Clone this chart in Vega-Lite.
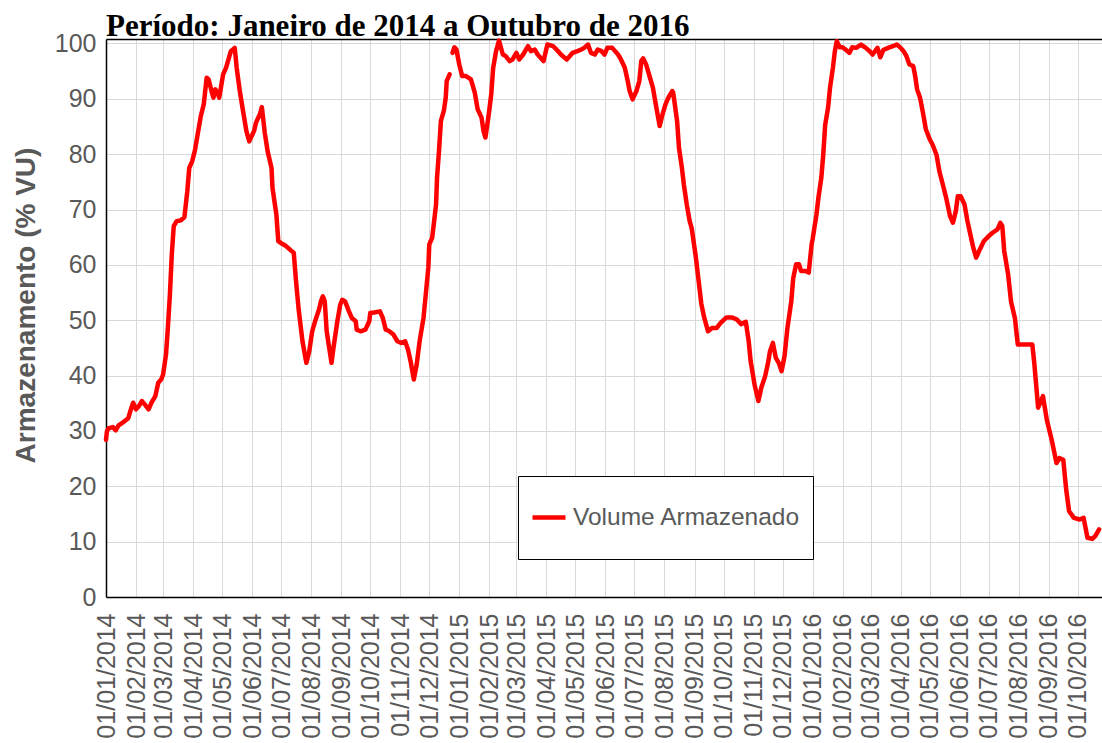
{
  "$schema": "https://vega.github.io/schema/vega-lite/v6.json",
  "width": 996,
  "height": 558,
  "autosize": {"type": "none"},
  "padding": {"left": 106, "top": 39, "right": 0, "bottom": 146},
  "background": "white",
  "title": {"text": "Período: Janeiro de 2014 a Outubro de 2016", "anchor": "start", "frame": "group", "font": "Liberation Serif", "fontSize": 31, "fontWeight": "bold", "color": "#000000", "baseline": "alphabetic", "offset": -36},
  "data": {"values": [
    {"date": "2014-01-01", "value": 28.4},
    {"date": "2014-01-02", "value": 30.0},
    {"date": "2014-01-04", "value": 30.5},
    {"date": "2014-01-08", "value": 30.7},
    {"date": "2014-01-11", "value": 30.1},
    {"date": "2014-01-14", "value": 31.0},
    {"date": "2014-01-19", "value": 31.6},
    {"date": "2014-01-24", "value": 32.3},
    {"date": "2014-01-26", "value": 33.5},
    {"date": "2014-01-29", "value": 35.1},
    {"date": "2014-02-01", "value": 33.9},
    {"date": "2014-02-04", "value": 34.5},
    {"date": "2014-02-07", "value": 35.4},
    {"date": "2014-02-10", "value": 34.8},
    {"date": "2014-02-14", "value": 33.9},
    {"date": "2014-02-17", "value": 35.1},
    {"date": "2014-02-21", "value": 36.3},
    {"date": "2014-02-24", "value": 38.7},
    {"date": "2014-02-27", "value": 39.3},
    {"date": "2014-03-01", "value": 40.2},
    {"date": "2014-03-04", "value": 43.8},
    {"date": "2014-03-06", "value": 48.9},
    {"date": "2014-03-08", "value": 54.6},
    {"date": "2014-03-10", "value": 62.0},
    {"date": "2014-03-12", "value": 67.0},
    {"date": "2014-03-15", "value": 67.9},
    {"date": "2014-03-19", "value": 68.0},
    {"date": "2014-03-23", "value": 68.6},
    {"date": "2014-03-26", "value": 73.3},
    {"date": "2014-03-28", "value": 77.5},
    {"date": "2014-03-31", "value": 78.7},
    {"date": "2014-04-03", "value": 80.8},
    {"date": "2014-04-06", "value": 83.9},
    {"date": "2014-04-09", "value": 86.9},
    {"date": "2014-04-12", "value": 89.0},
    {"date": "2014-04-15", "value": 93.8},
    {"date": "2014-04-17", "value": 93.5},
    {"date": "2014-04-20", "value": 91.4},
    {"date": "2014-04-22", "value": 90.2},
    {"date": "2014-04-24", "value": 91.7},
    {"date": "2014-04-26", "value": 91.1},
    {"date": "2014-04-28", "value": 90.2},
    {"date": "2014-05-02", "value": 94.4},
    {"date": "2014-05-05", "value": 95.6},
    {"date": "2014-05-08", "value": 97.4},
    {"date": "2014-05-10", "value": 98.6},
    {"date": "2014-05-14", "value": 99.2},
    {"date": "2014-05-16", "value": 95.6},
    {"date": "2014-05-19", "value": 91.7},
    {"date": "2014-05-22", "value": 88.4},
    {"date": "2014-05-26", "value": 84.2},
    {"date": "2014-05-29", "value": 82.3},
    {"date": "2014-06-03", "value": 84.2},
    {"date": "2014-06-05", "value": 85.7},
    {"date": "2014-06-09", "value": 87.2},
    {"date": "2014-06-11", "value": 88.5},
    {"date": "2014-06-14", "value": 83.9},
    {"date": "2014-06-17", "value": 80.5},
    {"date": "2014-06-21", "value": 77.5},
    {"date": "2014-06-22", "value": 73.9},
    {"date": "2014-06-26", "value": 69.1},
    {"date": "2014-06-28", "value": 64.3},
    {"date": "2014-07-02", "value": 63.8},
    {"date": "2014-07-06", "value": 63.4},
    {"date": "2014-07-11", "value": 62.6},
    {"date": "2014-07-14", "value": 62.2},
    {"date": "2014-07-16", "value": 57.7},
    {"date": "2014-07-19", "value": 52.0},
    {"date": "2014-07-23", "value": 46.2},
    {"date": "2014-07-27", "value": 42.3},
    {"date": "2014-07-30", "value": 44.4},
    {"date": "2014-08-02", "value": 48.0},
    {"date": "2014-08-05", "value": 49.8},
    {"date": "2014-08-09", "value": 51.9},
    {"date": "2014-08-11", "value": 53.4},
    {"date": "2014-08-13", "value": 54.3},
    {"date": "2014-08-15", "value": 53.4},
    {"date": "2014-08-17", "value": 48.0},
    {"date": "2014-08-22", "value": 42.3},
    {"date": "2014-08-24", "value": 45.0},
    {"date": "2014-08-28", "value": 49.8},
    {"date": "2014-08-31", "value": 52.8},
    {"date": "2014-09-02", "value": 53.7},
    {"date": "2014-09-05", "value": 53.4},
    {"date": "2014-09-09", "value": 51.6},
    {"date": "2014-09-12", "value": 50.4},
    {"date": "2014-09-16", "value": 49.8},
    {"date": "2014-09-17", "value": 48.3},
    {"date": "2014-09-21", "value": 48.0},
    {"date": "2014-09-26", "value": 48.3},
    {"date": "2014-09-30", "value": 49.8},
    {"date": "2014-10-01", "value": 51.3},
    {"date": "2014-10-05", "value": 51.4},
    {"date": "2014-10-11", "value": 51.6},
    {"date": "2014-10-14", "value": 50.4},
    {"date": "2014-10-17", "value": 48.3},
    {"date": "2014-10-20", "value": 48.1},
    {"date": "2014-10-25", "value": 47.4},
    {"date": "2014-10-29", "value": 46.2},
    {"date": "2014-11-02", "value": 45.9},
    {"date": "2014-11-06", "value": 46.2},
    {"date": "2014-11-09", "value": 44.7},
    {"date": "2014-11-12", "value": 42.3},
    {"date": "2014-11-15", "value": 39.3},
    {"date": "2014-11-18", "value": 42.0},
    {"date": "2014-11-21", "value": 46.2},
    {"date": "2014-11-25", "value": 50.4},
    {"date": "2014-11-28", "value": 55.8},
    {"date": "2014-11-30", "value": 59.5},
    {"date": "2014-12-01", "value": 63.7},
    {"date": "2014-12-04", "value": 64.9},
    {"date": "2014-12-06", "value": 67.9},
    {"date": "2014-12-08", "value": 70.9},
    {"date": "2014-12-09", "value": 75.7},
    {"date": "2014-12-11", "value": 80.5},
    {"date": "2014-12-13", "value": 86.0},
    {"date": "2014-12-16", "value": 87.8},
    {"date": "2014-12-18", "value": 90.2},
    {"date": "2014-12-19", "value": 93.2},
    {"date": "2014-12-22", "value": 94.4},
    {"date": "2014-12-23", "value": null},
    {"date": "2014-12-25", "value": 98.3},
    {"date": "2014-12-27", "value": 99.3},
    {"date": "2014-12-29", "value": 98.9},
    {"date": "2015-01-01", "value": 96.2},
    {"date": "2015-01-04", "value": 94.1},
    {"date": "2015-01-08", "value": 94.1},
    {"date": "2015-01-13", "value": 93.5},
    {"date": "2015-01-17", "value": 91.1},
    {"date": "2015-01-20", "value": 88.1},
    {"date": "2015-01-24", "value": 86.6},
    {"date": "2015-01-26", "value": 84.2},
    {"date": "2015-01-28", "value": 83.0},
    {"date": "2015-01-31", "value": 86.6},
    {"date": "2015-02-03", "value": 90.8},
    {"date": "2015-02-05", "value": 95.6},
    {"date": "2015-02-08", "value": 98.6},
    {"date": "2015-02-11", "value": 100.5},
    {"date": "2015-02-15", "value": 98.0},
    {"date": "2015-02-18", "value": 97.7},
    {"date": "2015-02-22", "value": 96.8},
    {"date": "2015-02-25", "value": 97.1},
    {"date": "2015-03-01", "value": 98.3},
    {"date": "2015-03-04", "value": 97.1},
    {"date": "2015-03-08", "value": 98.0},
    {"date": "2015-03-13", "value": 99.5},
    {"date": "2015-03-16", "value": 98.6},
    {"date": "2015-03-20", "value": 98.9},
    {"date": "2015-03-23", "value": 98.0},
    {"date": "2015-03-29", "value": 96.8},
    {"date": "2015-04-02", "value": 99.8},
    {"date": "2015-04-08", "value": 99.5},
    {"date": "2015-04-13", "value": 98.6},
    {"date": "2015-04-16", "value": 98.0},
    {"date": "2015-04-22", "value": 97.1},
    {"date": "2015-04-25", "value": 97.7},
    {"date": "2015-04-28", "value": 98.3},
    {"date": "2015-05-03", "value": 98.6},
    {"date": "2015-05-07", "value": 98.9},
    {"date": "2015-05-10", "value": 99.2},
    {"date": "2015-05-14", "value": 99.8},
    {"date": "2015-05-17", "value": 98.3},
    {"date": "2015-05-21", "value": 98.0},
    {"date": "2015-05-24", "value": 98.9},
    {"date": "2015-05-28", "value": 98.6},
    {"date": "2015-05-31", "value": 98.0},
    {"date": "2015-06-03", "value": 99.2},
    {"date": "2015-06-08", "value": 99.2},
    {"date": "2015-06-14", "value": 98.0},
    {"date": "2015-06-17", "value": 97.1},
    {"date": "2015-06-21", "value": 95.6},
    {"date": "2015-06-24", "value": 93.2},
    {"date": "2015-06-26", "value": 91.4},
    {"date": "2015-06-29", "value": 89.9},
    {"date": "2015-07-03", "value": 91.4},
    {"date": "2015-07-06", "value": 93.2},
    {"date": "2015-07-08", "value": 96.8},
    {"date": "2015-07-10", "value": 97.3},
    {"date": "2015-07-13", "value": 96.2},
    {"date": "2015-07-17", "value": 93.8},
    {"date": "2015-07-20", "value": 92.0},
    {"date": "2015-07-23", "value": 89.0},
    {"date": "2015-07-27", "value": 85.1},
    {"date": "2015-07-30", "value": 87.2},
    {"date": "2015-08-02", "value": 89.0},
    {"date": "2015-08-05", "value": 90.2},
    {"date": "2015-08-09", "value": 91.4},
    {"date": "2015-08-10", "value": 91.1},
    {"date": "2015-08-14", "value": 86.0},
    {"date": "2015-08-16", "value": 81.1},
    {"date": "2015-08-19", "value": 77.5},
    {"date": "2015-08-21", "value": 74.5},
    {"date": "2015-08-24", "value": 70.9},
    {"date": "2015-08-27", "value": 67.9},
    {"date": "2015-08-29", "value": 66.7},
    {"date": "2015-09-02", "value": 61.9},
    {"date": "2015-09-05", "value": 57.5},
    {"date": "2015-09-08", "value": 53.0},
    {"date": "2015-09-11", "value": 50.5},
    {"date": "2015-09-15", "value": 48.0},
    {"date": "2015-09-19", "value": 48.6},
    {"date": "2015-09-24", "value": 48.6},
    {"date": "2015-09-28", "value": 49.5},
    {"date": "2015-10-04", "value": 50.5},
    {"date": "2015-10-10", "value": 50.5},
    {"date": "2015-10-15", "value": 50.1},
    {"date": "2015-10-19", "value": 49.3},
    {"date": "2015-10-24", "value": 49.7},
    {"date": "2015-10-27", "value": 46.2},
    {"date": "2015-10-29", "value": 42.6},
    {"date": "2015-11-02", "value": 38.4},
    {"date": "2015-11-06", "value": 35.4},
    {"date": "2015-11-09", "value": 37.8},
    {"date": "2015-11-13", "value": 39.9},
    {"date": "2015-11-16", "value": 42.3},
    {"date": "2015-11-18", "value": 44.4},
    {"date": "2015-11-21", "value": 45.9},
    {"date": "2015-11-24", "value": 43.2},
    {"date": "2015-11-27", "value": 42.3},
    {"date": "2015-11-30", "value": 40.8},
    {"date": "2015-12-03", "value": 43.5},
    {"date": "2015-12-06", "value": 48.6},
    {"date": "2015-12-10", "value": 53.4},
    {"date": "2015-12-12", "value": 57.6},
    {"date": "2015-12-15", "value": 60.1},
    {"date": "2015-12-18", "value": 60.1},
    {"date": "2015-12-20", "value": 58.9},
    {"date": "2015-12-25", "value": 58.9},
    {"date": "2015-12-28", "value": 58.6},
    {"date": "2015-12-31", "value": 63.7},
    {"date": "2016-01-01", "value": 64.6},
    {"date": "2016-01-05", "value": 69.1},
    {"date": "2016-01-07", "value": 72.1},
    {"date": "2016-01-10", "value": 75.7},
    {"date": "2016-01-12", "value": 79.9},
    {"date": "2016-01-14", "value": 85.3},
    {"date": "2016-01-17", "value": 88.4},
    {"date": "2016-01-19", "value": 92.0},
    {"date": "2016-01-22", "value": 95.6},
    {"date": "2016-01-24", "value": 98.6},
    {"date": "2016-01-26", "value": 100.4},
    {"date": "2016-01-29", "value": 99.3},
    {"date": "2016-02-01", "value": 99.3},
    {"date": "2016-02-04", "value": 98.9},
    {"date": "2016-02-08", "value": 98.3},
    {"date": "2016-02-11", "value": 99.3},
    {"date": "2016-02-15", "value": 99.2},
    {"date": "2016-02-20", "value": 99.8},
    {"date": "2016-02-25", "value": 99.2},
    {"date": "2016-02-29", "value": 98.6},
    {"date": "2016-03-03", "value": 98.0},
    {"date": "2016-03-08", "value": 99.2},
    {"date": "2016-03-11", "value": 97.5},
    {"date": "2016-03-14", "value": 98.8},
    {"date": "2016-03-19", "value": 99.2},
    {"date": "2016-03-24", "value": 99.5},
    {"date": "2016-03-28", "value": 99.8},
    {"date": "2016-04-01", "value": 99.2},
    {"date": "2016-04-04", "value": 98.6},
    {"date": "2016-04-07", "value": 97.7},
    {"date": "2016-04-10", "value": 96.2},
    {"date": "2016-04-14", "value": 95.9},
    {"date": "2016-04-16", "value": 94.1},
    {"date": "2016-04-18", "value": 91.7},
    {"date": "2016-04-21", "value": 90.2},
    {"date": "2016-04-24", "value": 87.5},
    {"date": "2016-04-27", "value": 84.5},
    {"date": "2016-05-01", "value": 82.7},
    {"date": "2016-05-04", "value": 81.7},
    {"date": "2016-05-08", "value": 79.9},
    {"date": "2016-05-11", "value": 76.9},
    {"date": "2016-05-15", "value": 74.2},
    {"date": "2016-05-18", "value": 72.1},
    {"date": "2016-05-22", "value": 68.8},
    {"date": "2016-05-25", "value": 67.6},
    {"date": "2016-05-28", "value": 69.7},
    {"date": "2016-05-30", "value": 72.4},
    {"date": "2016-06-02", "value": 72.4},
    {"date": "2016-06-06", "value": 70.9},
    {"date": "2016-06-09", "value": 67.9},
    {"date": "2016-06-12", "value": 65.5},
    {"date": "2016-06-15", "value": 63.1},
    {"date": "2016-06-18", "value": 61.3},
    {"date": "2016-06-21", "value": 62.5},
    {"date": "2016-06-26", "value": 64.3},
    {"date": "2016-07-01", "value": 65.2},
    {"date": "2016-07-05", "value": 65.8},
    {"date": "2016-07-10", "value": 66.4},
    {"date": "2016-07-13", "value": 67.6},
    {"date": "2016-07-15", "value": 67.0},
    {"date": "2016-07-17", "value": 62.5},
    {"date": "2016-07-21", "value": 58.3},
    {"date": "2016-07-24", "value": 53.4},
    {"date": "2016-07-28", "value": 50.4},
    {"date": "2016-07-31", "value": 45.6},
    {"date": "2016-08-15", "value": 45.6},
    {"date": "2016-08-17", "value": 42.3},
    {"date": "2016-08-21", "value": 34.2},
    {"date": "2016-08-26", "value": 36.3},
    {"date": "2016-08-30", "value": 32.0},
    {"date": "2016-09-04", "value": 28.4},
    {"date": "2016-09-09", "value": 24.2},
    {"date": "2016-09-12", "value": 25.1},
    {"date": "2016-09-16", "value": 24.8},
    {"date": "2016-09-19", "value": 19.4},
    {"date": "2016-09-22", "value": 15.5},
    {"date": "2016-09-27", "value": 14.3},
    {"date": "2016-10-03", "value": 14.0},
    {"date": "2016-10-07", "value": 14.3},
    {"date": "2016-10-11", "value": 10.7},
    {"date": "2016-10-16", "value": 10.5},
    {"date": "2016-10-19", "value": 11.0},
    {"date": "2016-10-23", "value": 12.2}
  ]},
  "encoding": {
    "y": {
      "field": "value", "type": "quantitative",
      "scale": {"domain": [0, 100.8], "nice": false, "zero": true},
      "axis": {
        "values": [0, 10, 20, 30, 40, 50, 60, 70, 80, 90, 100],
        "grid": true, "gridColor": "#d9d9d9", "gridWidth": 1,
        "ticks": false, "domain": true, "domainColor": "#000000", "domainWidth": 1.5,
        "labelFont": "Liberation Sans", "labelFontSize": 25, "labelColor": "#595959", "labelPadding": 10,
        "title": "Armazenamento (% VU)", "titleFont": "Liberation Sans", "titleFontSize": 28, "titleFontWeight": "bold", "titleColor": "#595959",
        "titleX": -66, "titleY": 266, "titleAlign": "center", "titleBaseline": "bottom", "titleAngle": 270
      }
    }
  },
  "layer": [
    {
      "mark": {"type": "line", "strokeWidth": 4.5, "invalid": "break-paths-show-domains", "strokeJoin": "round", "strokeCap": "round"},
      "encoding": {
        "x": {
          "field": "date", "type": "temporal",
          "scale": {"type": "utc", "nice": false, "domain": [{"year": 2014, "month": 1, "date": 1, "utc": true}, {"year": 2016, "month": 10, "date": 26, "utc": true}]},
          "axis": {
            "orient": "bottom", "format": "%d/%m/%Y", "tickCount": {"interval": "month", "step": 1},
            "labelAngle": -90, "labelFont": "Liberation Sans", "labelFontSize": 25, "labelColor": "#595959", "labelPadding": 16,
            "labelOverlap": false, "labelFlush": false, "labelBound": false,
            "ticks": false, "grid": true, "gridColor": "#d9d9d9", "gridWidth": 1,
            "domain": true, "domainColor": "#000000", "domainWidth": 1.5, "title": null
          }
        },
        "color": {
          "datum": "Volume Armazenado", "type": "nominal",
          "scale": {"range": ["#ff0000"]},
          "legend": {
            "orient": "none", "legendX": 412, "legendY": 437, "title": null,
            "strokeColor": "#000000", "fillColor": "#ffffff", "padding": 12,
            "symbolType": "stroke", "symbolStrokeWidth": 4.5, "symbolSize": 1089, "symbolStrokeColor": "#ff0000",
            "labelFont": "Liberation Sans", "labelFontSize": 24.5, "labelColor": "#595959", "labelOffset": 5,
            "clipHeight": 59, "labelLimit": 400
          }
        }
      }
    },
    {
      "mark": {"type": "line", "strokeOpacity": 0},
      "encoding": {
        "x": {
          "field": "date", "type": "temporal",
          "axis": {"orient": "top", "labels": false, "ticks": false, "grid": false, "domain": true, "domainColor": "#000000", "domainWidth": 1.5, "title": null}
        }
      }
    }
  ],
  "resolve": {"axis": {"x": "independent"}},
  "config": {
    "view": {"stroke": null},
    "font": "Liberation Sans"
  }
}
